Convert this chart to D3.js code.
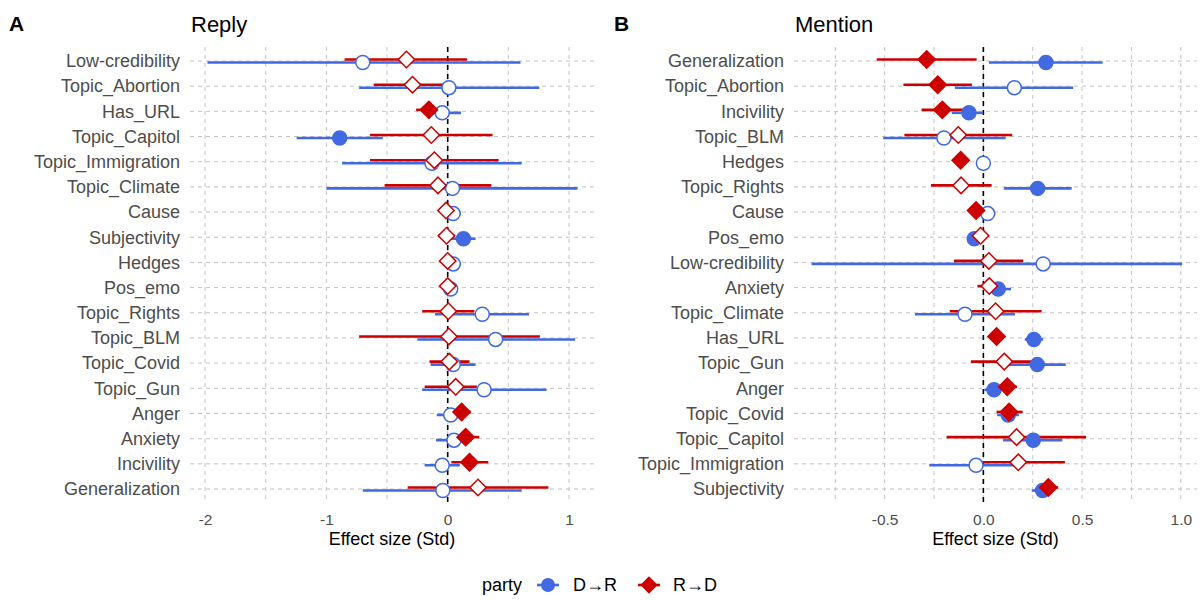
<!DOCTYPE html>
<html>
<head>
<meta charset="utf-8">
<script src="https://cdn.jsdelivr.net/npm/d3@7"></script>
<style>
  body { margin: 0; background: #fff; }
  svg { font-family: "Liberation Sans", Arial, Helvetica, sans-serif; }
</style>
</head>
<body>
<svg id="chart" width="1201" height="600"></svg>
<script>
// ---------------- DATA ----------------
const replyCategories = ["Low-credibility","Topic_Abortion","Has_URL","Topic_Capitol","Topic_Immigration","Topic_Climate","Cause","Subjectivity","Hedges","Pos_emo","Topic_Rights","Topic_BLM","Topic_Covid","Topic_Gun","Anger","Anxiety","Incivility","Generalization"];
const replyDR_est = [-0.70, 0.01, -0.045, -0.89, -0.13, 0.04, 0.045, 0.13, 0.046, 0.025, 0.285, 0.395, 0.046, 0.30, 0.025, 0.052, -0.045, -0.04];
const replyDR_lo  = [-1.98, -0.73, -0.15, -1.245, -0.87, -1.0, -0.03, 0.03, -0.02, -0.03, -0.105, -0.25, -0.14, -0.21, -0.09, -0.096, -0.19, -0.70];
const replyDR_hi  = [0.60, 0.755, 0.11, -0.535, 0.61, 1.07, 0.11, 0.23, 0.11, 0.08, 0.67, 1.05, 0.23, 0.815, 0.14, 0.20, 0.10, 0.61];
const replyRD_est = [-0.34, -0.29, -0.155, -0.135, -0.11, -0.08, -0.014, -0.01, 0.0, 0.0, 0.005, 0.01, 0.013, 0.066, 0.115, 0.148, 0.18, 0.25];
const replyRD_lo  = [-0.85, -0.61, -0.26, -0.64, -0.64, -0.52, -0.06, -0.08, -0.05, -0.04, -0.21, -0.73, -0.15, -0.19, 0.04, 0.04, 0.03, -0.33];
const replyRD_hi  = [0.16, 0.02, -0.05, 0.37, 0.42, 0.36, 0.03, 0.06, 0.05, 0.04, 0.22, 0.76, 0.18, 0.24, 0.19, 0.26, 0.335, 0.83];

const mentionCategories = ["Generalization","Topic_Abortion","Incivility","Topic_BLM","Hedges","Topic_Rights","Cause","Pos_emo","Low-credibility","Anxiety","Topic_Climate","Has_URL","Topic_Gun","Anger","Topic_Covid","Topic_Capitol","Topic_Immigration","Subjectivity"];
const mentionDR_est = [0.317, 0.157, -0.073, -0.20, 0.0, 0.275, 0.022, -0.046, 0.303, 0.075, -0.093, 0.256, 0.273, 0.054, 0.126, 0.253, -0.037, 0.30];
const mentionDR_lo  = [0.028, -0.144, -0.16, -0.507, -0.03, 0.104, -0.02, -0.07, -0.87, 0.01, -0.346, 0.21, 0.13, 0.005, 0.07, 0.10, -0.274, 0.245];
const mentionDR_hi  = [0.604, 0.455, -0.005, 0.113, 0.03, 0.447, 0.06, -0.02, 1.007, 0.14, 0.16, 0.303, 0.417, 0.10, 0.18, 0.40, 0.20, 0.35];
const mentionRD_est = [-0.287, -0.231, -0.208, -0.127, -0.115, -0.113, -0.037, -0.014, 0.028, 0.03, 0.062, 0.067, 0.106, 0.121, 0.13, 0.168, 0.177, 0.329];
const mentionRD_lo  = [-0.54, -0.405, -0.313, -0.40, -0.14, -0.265, -0.06, -0.04, -0.149, -0.03, -0.17, 0.04, -0.063, 0.07, 0.067, -0.186, -0.009, 0.28];
const mentionRD_hi  = [-0.034, -0.058, -0.10, 0.146, -0.09, 0.042, -0.01, 0.01, 0.202, 0.09, 0.295, 0.09, 0.25, 0.17, 0.199, 0.52, 0.413, 0.379];

const replyMajorTicks = [-2, -1, 0, 1];
const replyMinorTicks = [-1.5, -0.5, 0.5];
const replyTickLabels = ["-2", "-1", "0", "1"];
const mentionMajorTicks = [-0.5, 0, 0.5, 1.0];
const mentionMinorTicks = [-0.75, -0.25, 0.25, 0.75];
const mentionTickLabels = ["-0.5", "0.0", "0.5", "1.0"];

const partyNames = ["D\u2192R", "R\u2192D"];
const partyColors = ["#4169E1", "#CD0000"];

// ---------------- DRAW ----------------
const svg = d3.select("#chart");
const diamond = d3.symbol().type(d3.symbolSquare);

function buildSeries(cats, est, lo, hi) {
  return cats.map((c, i) => ({cat: c, est: est[i], lo: lo[i], hi: hi[i], sig: lo[i] > 0 || hi[i] < 0}));
}

function drawPanel(opt) {
  const g = svg.append("g");
  const x = d3.scaleLinear().domain(opt.domain).range([opt.left, opt.right]);
  const y = d3.scalePoint().domain(opt.cats).range([61, 489]);
  const top = 47, bottom = 502;
  const gridColor = "#c4c4c4";

  // vertical grid
  g.selectAll(".vg").data(opt.major.concat(opt.minor)).join("line")
    .attr("x1", d => x(d)).attr("x2", d => x(d))
    .attr("y1", top).attr("y2", bottom)
    .attr("stroke", gridColor).attr("stroke-width", 1).attr("stroke-dasharray", "4,4");
  // horizontal grid
  g.selectAll(".hg").data(opt.cats).join("line")
    .attr("x1", opt.left).attr("x2", opt.right)
    .attr("y1", d => y(d)).attr("y2", d => y(d))
    .attr("stroke", gridColor).attr("stroke-width", 1).attr("stroke-dasharray", "4,4");

  // zero line
  g.append("line").attr("x1", x(0)).attr("x2", x(0)).attr("y1", top).attr("y2", bottom)
    .attr("stroke", "#000").attr("stroke-width", 1.6).attr("stroke-dasharray", "5,4");

  // x axis
  const ax = d3.axisBottom(x).tickValues(opt.major).tickSize(0)
    .tickFormat((d, i) => opt.tickLabels[i]);
  const axg = g.append("g").attr("transform", `translate(0,${bottom})`).call(ax);
  axg.select(".domain").remove();
  axg.selectAll("text").attr("font-size", "15.5px").attr("fill", "#4d4d4d")
    .attr("font-family", "Liberation Sans, Arial, sans-serif").attr("dy", 0).attr("y", 23);

  // y labels
  g.selectAll(".yl").data(opt.cats).join("text")
    .attr("x", opt.left - 10).attr("y", d => y(d)).attr("dy", "0.35em")
    .attr("text-anchor", "end").attr("font-size", "18px").attr("fill", "#4d4d4d")
    .text(d => d);

  // axis title
  g.append("text").attr("x", (opt.left + opt.right) / 2).attr("y", 545)
    .attr("text-anchor", "middle").attr("font-size", "18px").attr("fill", "#000")
    .text("Effect size (Std)");

  // titles
  g.append("text").attr("x", opt.tagX).attr("y", 31).attr("font-size", "21px")
    .attr("font-weight", "bold").attr("fill", "#000").text(opt.tag);
  g.append("text").attr("x", opt.left + 1).attr("y", 32).attr("font-size", "22px")
    .attr("fill", "#000").text(opt.title);

  const dodge = [1.5, -1.5];
  // ranges
  opt.series.forEach((s, k) => {
    g.append("g").selectAll("line").data(s).join("line")
      .attr("x1", d => x(d.lo)).attr("x2", d => x(d.hi))
      .attr("y1", d => y(d.cat) + dodge[k]).attr("y2", d => y(d.cat) + dodge[k])
      .attr("stroke", partyColors[k]).attr("stroke-width", 2.6);
  });
  // points
  g.append("g").selectAll("circle").data(opt.series[0]).join("circle")
    .attr("cx", d => x(d.est)).attr("cy", d => y(d.cat) + dodge[0]).attr("r", 7)
    .attr("fill", d => d.sig ? partyColors[0] : "#fff")
    .attr("stroke", partyColors[0]).attr("stroke-width", 1.5);
  g.append("g").selectAll("path").data(opt.series[1]).join("path")
    .attr("d", diamond.size(d => d.sig ? 150 : 135))
    .attr("transform", d => `translate(${x(d.est)},${y(d.cat) + dodge[1]}) rotate(45)`)
    .attr("fill", d => d.sig ? partyColors[1] : "#fff")
    .attr("stroke", partyColors[1]).attr("stroke-width", 1.5);
}

drawPanel({
  cats: replyCategories, domain: [-2.124, 1.206], left: 190, right: 594,
  major: replyMajorTicks, minor: replyMinorTicks, tickLabels: replyTickLabels,
  tag: "A", tagX: 9, title: "Reply",
  series: [buildSeries(replyCategories, replyDR_est, replyDR_lo, replyDR_hi),
           buildSeries(replyCategories, replyRD_est, replyRD_lo, replyRD_hi)]
});
drawPanel({
  cats: mentionCategories, domain: [-0.959, 1.082], left: 794, right: 1197,
  major: mentionMajorTicks, minor: mentionMinorTicks, tickLabels: mentionTickLabels,
  tag: "B", tagX: 614, title: "Mention",
  series: [buildSeries(mentionCategories, mentionDR_est, mentionDR_lo, mentionDR_hi),
           buildSeries(mentionCategories, mentionRD_est, mentionRD_lo, mentionRD_hi)]
});

// legend
const lg = svg.append("g");
const ly = 585;
lg.append("text").attr("x", 482).attr("y", ly).attr("dy", "0.35em").attr("font-size", "18px").text("party");
const keyX = [548, 649], textX = [573, 673];
partyNames.forEach((name, k) => {
  lg.append("line").attr("x1", keyX[k] - 11).attr("x2", keyX[k] + 11).attr("y1", ly).attr("y2", ly)
    .attr("stroke", partyColors[k]).attr("stroke-width", 2.6);
  if (k === 0) {
    lg.append("circle").attr("cx", keyX[k]).attr("cy", ly).attr("r", 7).attr("fill", partyColors[k]);
  } else {
    lg.append("path").attr("d", diamond.size(150)).attr("transform", `translate(${keyX[k]},${ly}) rotate(45)`)
      .attr("fill", partyColors[k]);
  }
  lg.append("text").attr("x", textX[k]).attr("y", ly).attr("dy", "0.35em").attr("font-size", "18px").text(name);
});
</script>
</body>
</html>
